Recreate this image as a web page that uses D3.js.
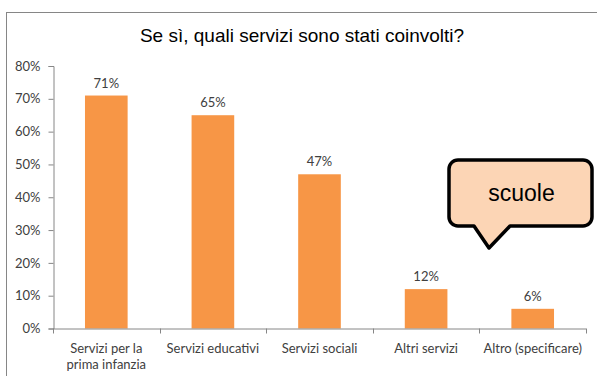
<!DOCTYPE html>
<html>
<head>
<meta charset="utf-8">
<script src="https://cdn.jsdelivr.net/npm/d3@7"></script>
<style>
  html, body { margin: 0; padding: 0; background: #fff; }
  svg { display: block; }
</style>
</head>
<body>
<svg id="chart" width="597" height="376"></svg>
<script>
// Categories (multi-line labels split on "\n") and percentage values
const categories = [
  "Servizi per la\nprima infanzia",
  "Servizi educativi",
  "Servizi sociali",
  "Altri servizi",
  "Altro (specificare)"
];
const values = [71, 65, 47, 12, 6];
const yTicks = [0, 10, 20, 30, 40, 50, 60, 70, 80];
const titleText = "Se sì, quali servizi sono stati coinvolti?";
const calloutText = "scuole";

const svg = d3.select("#chart");
const W = 597, H = 376;
const margin = { left: 53, right: 11, top: 66, bottom: 47.5 };
const axisFont = "Lato, 'Open Sans', 'DejaVu Sans', sans-serif";
const axisSize = 13;

// Outer chart frame (only top and left visible within the window)
svg.append("rect")
  .attr("x", 6.5).attr("y", 12.5)
  .attr("width", W + 20).attr("height", H + 20)
  .attr("fill", "#fff").attr("stroke", "#868686").attr("stroke-width", 1);

// Title
svg.append("text")
  .attr("x", 302).attr("y", 42)
  .attr("text-anchor", "middle")
  .attr("font-family", "Arial, 'Liberation Sans', sans-serif")
  .attr("font-size", 19)
  .attr("fill", "#000")
  .text(titleText);

const x = d3.scaleBand()
  .domain(categories)
  .range([margin.left, W - margin.right])
  .paddingInner(0.6)
  .paddingOuter(0.3);

const y = d3.scaleLinear()
  .domain([0, 80])
  .range([H - margin.bottom, margin.top]);

// Bars
svg.append("g").selectAll("rect")
  .data(values)
  .join("rect")
  .attr("x", (d, i) => x(categories[i]))
  .attr("y", d => y(d))
  .attr("width", x.bandwidth())
  .attr("height", d => y(0) - y(d))
  .attr("fill", "#F79646");

// Value labels
svg.append("g").selectAll("text")
  .data(values)
  .join("text")
  .attr("x", (d, i) => x(categories[i]) + x.bandwidth() / 2)
  .attr("y", d => y(d) - 8)
  .attr("text-anchor", "middle")
  .attr("font-family", axisFont)
  .attr("font-size", axisSize)
  .attr("fill", "#404040")
  .text(d => d + "%");

// Y axis
const yAxis = svg.append("g")
  .attr("transform", `translate(${margin.left + 0.5},0)`)
  .call(d3.axisLeft(y).tickValues(yTicks).tickFormat(d => d + "%").tickSize(5).tickPadding(8));
yAxis.select(".domain").attr("stroke", "#868686");
yAxis.selectAll(".tick line").attr("stroke", "#868686");
yAxis.selectAll(".tick text")
  .attr("font-family", axisFont).attr("font-size", axisSize).attr("fill", "#404040");

// X axis: baseline plus tick marks at category boundaries
const xAxisG = svg.append("g");
xAxisG.append("line")
  .attr("x1", margin.left).attr("x2", W - margin.right)
  .attr("y1", y(0) + 0.5).attr("y2", y(0) + 0.5)
  .attr("stroke", "#868686");
const step = x.step();
xAxisG.selectAll("line.tk")
  .data(d3.range(categories.length + 1))
  .join("line")
  .attr("class", "tk")
  .attr("x1", i => Math.round(margin.left + i * step) + 0.5)
  .attr("x2", i => Math.round(margin.left + i * step) + 0.5)
  .attr("y1", y(0)).attr("y2", y(0) + 5)
  .attr("stroke", "#868686");

// Category labels
const catG = svg.append("g");
categories.forEach(c => {
  const t = catG.append("text")
    .attr("x", x(c) + x.bandwidth() / 2)
    .attr("y", y(0) + 24)
    .attr("text-anchor", "middle")
    .attr("font-family", axisFont)
    .attr("font-size", axisSize)
    .attr("fill", "#404040");
  c.split("\n").forEach((line, k) => {
    t.append("tspan")
      .attr("x", x(c) + x.bandwidth() / 2)
      .attr("dy", k === 0 ? 0 : 16)
      .text(line);
  });
});

// Callout bubble with pointer
const bx0 = 449, bx1 = 592, by0 = 160, by1 = 226, r = 9;
const px0 = 474, px1 = 510, tipX = 489, tipY = 248;
const path = d3.path();
path.moveTo(bx0 + r, by0);
path.lineTo(bx1 - r, by0);
path.arcTo(bx1, by0, bx1, by0 + r, r);
path.lineTo(bx1, by1 - r);
path.arcTo(bx1, by1, bx1 - r, by1, r);
path.lineTo(px1, by1);
path.lineTo(tipX, tipY);
path.lineTo(px0, by1);
path.lineTo(bx0 + r, by1);
path.arcTo(bx0, by1, bx0, by1 - r, r);
path.lineTo(bx0, by0 + r);
path.arcTo(bx0, by0, bx0 + r, by0, r);
path.closePath();
svg.append("path")
  .attr("d", path.toString())
  .attr("fill", "#FCD5B5")
  .attr("stroke", "#000")
  .attr("stroke-width", 3.5)
  .attr("stroke-linejoin", "round");
svg.append("text")
  .attr("x", (bx0 + bx1) / 2 + 1).attr("y", 201)
  .attr("text-anchor", "middle")
  .attr("font-family", "Arial, 'Liberation Sans', sans-serif")
  .attr("font-size", 23)
  .attr("fill", "#000")
  .text(calloutText);
</script>
</body>
</html>
